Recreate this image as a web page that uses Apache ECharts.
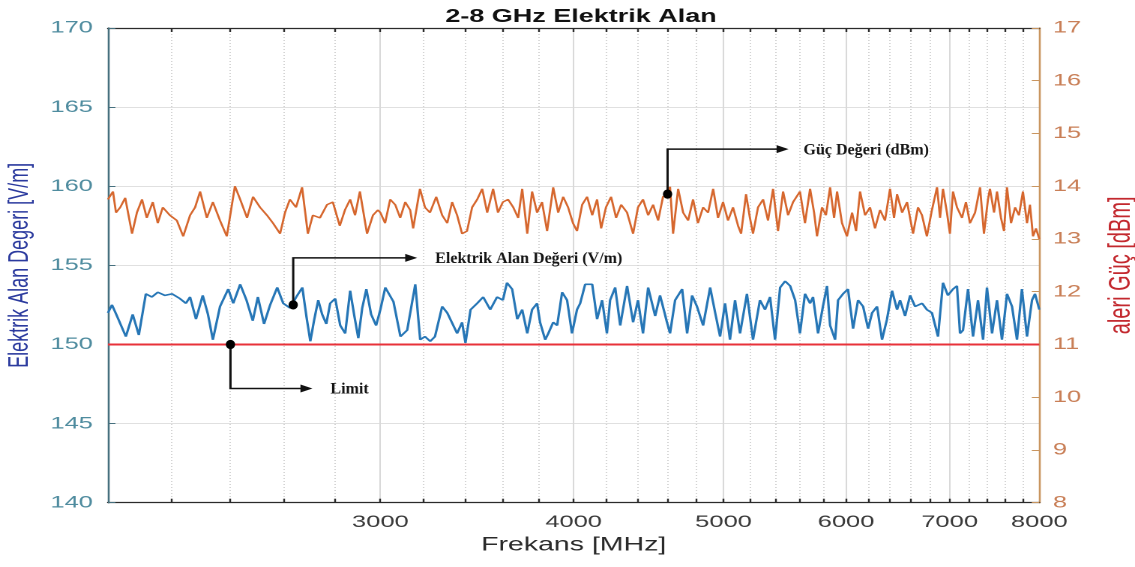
<!DOCTYPE html>
<html>
<head>
<meta charset="utf-8">
<title>2-8 GHz Elektrik Alan</title>
<script src="https://cdn.jsdelivr.net/npm/echarts@6.0.0/dist/echarts.min.js"></script>
<style>
  html, body { margin: 0; padding: 0; background: #fff; overflow: hidden; }
  #wrap { width: 1135px; height: 567px; overflow: hidden; position: relative; }
  /* the figure is drawn narrow and widened, like the exported MATLAB plot */
  #chart { width: 757px; height: 567px; transform-origin: 0 0; transform: scaleX(1.49934); }
</style>
</head>
<body>
<div id="wrap"><div id="chart"></div></div>
<script>
// ---- data -------------------------------------------------------------
const freqMin = 2000;
const freqMax = 8000;
const freqTickLabels = [3000, 4000, 5000, 6000, 7000, 8000];
const limitValue = 150;

// electric field strength (V/m), left axis
const fieldFreq = [
  2000, 2012, 2027, 2054, 2075, 2094, 2116, 2135, 2154, 2177, 2200, 2226, 2246, 2260, 2280, 2303,
  2321, 2338, 2363, 2392, 2410, 2435, 2458, 2481, 2500, 2523, 2546, 2573, 2596, 2623, 2647, 2671,
  2687, 2703, 2719, 2735, 2751, 2768, 2784, 2805, 2826, 2847, 2868, 2886, 2903, 2920, 2938, 2959,
  2981, 3000, 3022, 3059, 3091, 3122, 3160, 3183, 3206, 3231, 3254, 3289, 3314, 3363, 3388, 3405,
  3431, 3465, 3496, 3533, 3569, 3600, 3622, 3650, 3678, 3705, 3733, 3760, 3788, 3805, 3834, 3852,
  3880, 3903, 3932, 3961, 3990, 4020, 4039, 4069, 4112, 4142, 4173, 4203, 4223, 4255, 4287, 4331,
  4370, 4402, 4435, 4469, 4516, 4549, 4596, 4617, 4652, 4701, 4736, 4771, 4806, 4850, 4901, 4938,
  4974, 5011, 5048, 5086, 5124, 5177, 5224, 5278, 5318, 5358, 5398, 5439, 5480, 5521, 5562, 5602,
  5644, 5687, 5712, 5755, 5797, 5832, 5859, 5903, 5929, 5973, 6017, 6063, 6108, 6154, 6200, 6237,
  6283, 6330, 6377, 6425, 6473, 6502, 6551, 6600, 6649, 6719, 6767, 6818, 6880, 6931, 6982, 7035,
  7077, 7109, 7141, 7194, 7248, 7302, 7357, 7400, 7456, 7511, 7567, 7624, 7681, 7738, 7795, 7854,
  7913, 7948, 8000
];
const fieldValue = [
  152.0, 152.5, 151.8, 150.5, 151.9, 150.6, 153.2, 153.0, 153.3, 153.1, 153.2, 152.9, 152.6, 153.0, 151.6, 153.1,
  151.9, 150.3, 152.4, 153.5, 152.6, 153.8, 152.8, 151.5, 153.0, 151.3, 152.5, 153.6, 152.6, 152.3, 153.0, 153.6,
  151.8, 150.2, 151.6, 152.8, 151.9, 151.3, 152.6, 152.9, 151.2, 150.7, 153.4, 151.8, 150.4, 152.3, 153.5, 151.9,
  151.2, 152.2, 153.6, 152.7, 150.5, 150.9, 153.8, 150.3, 150.5, 150.2, 150.5, 152.4, 152.0, 150.7, 151.4, 150.1,
  152.2, 152.6, 153.0, 152.2, 153.0, 152.8, 153.9, 153.5, 151.6, 152.2, 150.7, 152.2, 152.6, 151.4, 150.3, 150.7,
  151.4, 151.2, 153.3, 152.8, 150.7, 152.2, 152.6, 153.8, 153.8, 151.6, 152.8, 150.7, 152.8, 153.6, 151.2, 153.7,
  151.4, 152.8, 150.7, 153.6, 151.8, 153.1, 151.4, 150.7, 152.8, 153.5, 150.7, 153.1, 152.4, 151.2, 153.6, 152.0,
  150.5, 152.6, 150.3, 152.8, 150.7, 153.2, 150.3, 152.8, 152.2, 153.0, 150.3, 153.6, 154.0, 153.7, 152.8, 150.7,
  153.2, 152.6, 153.0, 150.7, 152.4, 153.7, 151.2, 150.3, 152.8, 153.2, 153.5, 151.0, 152.8, 152.4, 151.0, 152.0,
  152.4, 150.3, 151.6, 153.4, 152.2, 152.8, 151.8, 153.1, 152.4, 152.6, 152.2, 152.0, 150.5, 153.9, 153.1, 153.5,
  153.7, 150.7, 150.9, 153.5, 150.5, 152.8, 150.3, 153.6, 150.7, 152.8, 150.3, 153.2, 152.4, 150.3, 153.5, 150.5,
  152.8, 153.2, 152.2
];

// forward power (dBm), right axis
const powerFreq = [
  2000, 2015, 2024, 2037, 2052, 2073, 2088, 2104, 2119, 2138, 2154, 2170, 2193, 2216, 2237, 2260,
  2277, 2294, 2317, 2338, 2363, 2387, 2416, 2435, 2460, 2482, 2508, 2534, 2557, 2584, 2603, 2622,
  2646, 2670, 2693, 2713, 2742, 2771, 2795, 2824, 2846, 2868, 2889, 2910, 2941, 2967, 2989, 3000,
  3021, 3044, 3067, 3090, 3113, 3136, 3150, 3182, 3206, 3230, 3260, 3289, 3314, 3338, 3363, 3388,
  3413, 3439, 3465, 3491, 3517, 3548, 3574, 3600, 3628, 3656, 3683, 3705, 3733, 3760, 3788, 3816,
  3845, 3880, 3909, 3938, 3967, 3996, 4020, 4051, 4081, 4112, 4142, 4167, 4197, 4229, 4261, 4293,
  4331, 4370, 4402, 4435, 4469, 4502, 4536, 4569, 4596, 4617, 4638, 4673, 4708, 4743, 4778, 4813,
  4850, 4886, 4923, 4959, 4996, 5033, 5071, 5109, 5132, 5170, 5200, 5224, 5263, 5303, 5342, 5382,
  5422, 5463, 5504, 5545, 5602, 5644, 5687, 5721, 5746, 5789, 5823, 5859, 5894, 5920, 5964, 6008,
  6054, 6090, 6126, 6172, 6218, 6264, 6311, 6358, 6406, 6444, 6473, 6522, 6570, 6629, 6678, 6718,
  6767, 6818, 6870, 6901, 6931, 6972, 7003, 7035, 7077, 7130, 7172, 7215, 7270, 7324, 7367, 7411,
  7433, 7478, 7511, 7556, 7590, 7624, 7670, 7716, 7761, 7807, 7854, 7889, 7925, 7960, 8000
];
const powerValue = [
  13.75, 13.90, 13.50, 13.60, 13.78, 13.10, 13.50, 13.75, 13.40, 13.70, 13.30, 13.60, 13.45, 13.35, 13.05, 13.45,
  13.60, 13.90, 13.40, 13.70, 13.35, 13.05, 14.00, 13.75, 13.40, 13.80, 13.60, 13.45, 13.30, 13.10, 13.50, 13.75,
  13.60, 13.98, 13.10, 13.45, 13.40, 13.65, 13.70, 13.25, 13.55, 13.75, 13.45, 13.90, 13.10, 13.45, 13.55, 13.50,
  13.30, 13.75, 13.65, 13.40, 13.70, 13.55, 13.20, 13.95, 13.60, 13.50, 13.80, 13.45, 13.30, 13.70, 13.45, 13.10,
  13.15, 13.60, 13.75, 13.95, 13.50, 13.95, 13.50, 13.70, 13.75, 13.60, 13.40, 13.95, 13.10, 13.90, 13.50, 13.70,
  13.15, 13.98, 13.50, 13.80, 13.60, 13.30, 13.15, 13.65, 13.80, 13.45, 13.75, 13.20, 13.60, 13.80, 13.40, 13.65,
  13.50, 13.10, 13.60, 13.75, 13.45, 13.65, 13.35, 13.80, 13.85, 13.99, 13.10, 13.95, 13.50, 13.35, 13.75, 13.30,
  13.60, 13.50, 13.95, 13.40, 13.70, 13.35, 13.60, 13.25, 13.10, 13.85, 13.40, 13.10, 13.60, 13.75, 13.35, 13.95,
  13.15, 13.90, 13.45, 13.70, 13.90, 13.30, 13.95, 13.50, 13.05, 13.60, 13.45, 13.98, 13.40, 13.90, 13.30, 13.05,
  13.50, 13.15, 13.90, 13.45, 13.60, 13.20, 13.55, 13.35, 13.95, 13.40, 13.85, 13.50, 13.70, 13.10, 13.60, 13.45,
  13.05, 13.55, 13.98, 13.40, 13.95, 13.50, 13.10, 13.90, 13.60, 13.40, 13.70, 13.30, 13.50, 13.98, 13.10, 13.75,
  13.95, 13.50, 13.90, 13.40, 13.15, 13.98, 13.30, 13.60, 13.45, 13.90, 13.30, 13.65, 13.05, 13.20, 13.00
];

// ---- layout helpers ---------------------------------------------------
const STRETCH = 1135 / 757;          // horizontal widening applied by CSS
const lg = v => Math.log10(v);
const xMin = lg(freqMin);
const xMax = lg(freqMax);

// grid ticks every 200 MHz, solid lines on the thousands
const gridFreqs = [];
for (let f = freqMin + 200; f < freqMax; f += 200) gridFreqs.push(f);
const majorGrid = gridFreqs.filter(f => f % 1000 === 0);
const minorGrid = gridFreqs.filter(f => f % 1000 !== 0);

const SANS = '"Liberation Sans", Arial, sans-serif';
const SERIF = '"Liberation Serif", "Times New Roman", serif';

const baseX = {
  type: 'value', min: xMin, max: xMax, gridIndex: 0,
  axisLabel: { show: false }, axisLine: { show: false },
  axisTick: { show: false }, splitLine: { show: false }
};

const chart = echarts.init(document.getElementById('chart'), null, { renderer: 'canvas', devicePixelRatio: 2 });

chart.setOption({
  animation: false,
  backgroundColor: '#ffffff',
  title: {
    text: '2-8 GHz Elektrik Alan',
    left: 382.5, top: 3, textAlign: 'center',
    textStyle: { fontFamily: SANS, fontWeight: 'bold', fontSize: 18, color: '#111' }
  },
  grid: { left: 72, right: 63.8, top: 28, bottom: 64.3, containLabel: false, outerBoundsMode: 'none' },
  xAxis: [
    Object.assign({}, baseX, {
      position: 'bottom',
      name: 'Frekans [MHz]', nameLocation: 'middle', nameGap: 33,
      nameTextStyle: { fontFamily: SANS, fontSize: 19, color: '#2a2a2a' },
      axisLine: { show: true, onZero: false, lineStyle: { color: '#2b2b2b', width: 1.3 } },
      axisTick: { show: true, inside: true, length: 4, customValues: gridFreqs.map(lg),
                  lineStyle: { color: '#2b2b2b', width: 1.2 } },
      axisLabel: { show: true, customValues: freqTickLabels.map(lg), margin: 11,
                   formatter: v => String(Math.round(Math.pow(10, v))),
                   fontFamily: SANS, fontSize: 17, color: '#3a3a3a' }
    }),
    Object.assign({}, baseX, {
      position: 'top',
      axisLine: { show: true, onZero: false, lineStyle: { color: '#2b2b2b', width: 1.3 } },
      axisTick: { show: true, inside: true, length: 4, customValues: gridFreqs.map(lg),
                  lineStyle: { color: '#2b2b2b', width: 1.2 } }
    }),
    Object.assign({}, baseX, {
      position: 'bottom',
      axisTick: { show: false, customValues: majorGrid.map(lg) },
      splitLine: { show: true, lineStyle: { color: '#d9d9d9', width: 1 } }
    }),
    Object.assign({}, baseX, {
      position: 'bottom',
      axisTick: { show: false, customValues: minorGrid.map(lg) },
      splitLine: { show: true, lineStyle: { color: '#d4d4d4', width: 1, type: [1, 2] } }
    })
  ],
  yAxis: [
    {
      type: 'value', position: 'left', min: 140, max: 170, interval: 5,
      name: 'Elektrik Alan Degeri [V/m]', nameLocation: 'middle', nameGap: 48,
      nameTextStyle: { fontFamily: SANS, fontSize: 18, color: '#2b3a9e' },
      axisLine: { show: true, lineStyle: { color: '#46707e', width: 1.3 } },
      axisTick: { show: true, inside: true, length: 5, lineStyle: { color: '#46707e' } },
      axisLabel: { margin: 10, fontFamily: SANS, fontSize: 17, color: '#4f8c9f' },
      splitLine: { show: true, lineStyle: { color: '#e0e0e0', width: 1 } }
    },
    {
      type: 'value', position: 'right', min: 8, max: 17, interval: 1,
      name: 'aleri Güç [dBm]', nameLocation: 'middle', nameGap: 45,
      nameTextStyle: { fontFamily: SANS, fontSize: 20, color: '#c3282e' },
      axisLine: { show: true, lineStyle: { color: '#c9955f', width: 1.3 } },
      axisTick: { show: true, inside: true, length: 5, lineStyle: { color: '#c9955f' } },
      axisLabel: { margin: 9, fontFamily: SANS, fontSize: 17, color: '#c97f57' },
      splitLine: { show: false }
    }
  ],
  series: [
    {
      name: 'Elektrik Alan Değeri (V/m)', type: 'line', xAxisIndex: 0, yAxisIndex: 0,
      data: fieldFreq.map((f, i) => [lg(f), fieldValue[i]]),
      symbol: 'none', lineStyle: { color: '#2676b6', width: 1.6 }, z: 3
    },
    {
      name: 'Güç Değeri (dBm)', type: 'line', xAxisIndex: 0, yAxisIndex: 1,
      data: powerFreq.map((f, i) => [lg(f), powerValue[i]]),
      symbol: 'none', lineStyle: { color: '#d6672e', width: 1.4 }, z: 3
    },
    {
      name: 'Limit', type: 'line', xAxisIndex: 0, yAxisIndex: 0,
      data: [[xMin, limitValue], [xMax, limitValue]],
      symbol: 'none', lineStyle: { color: '#e8323a', width: 2 }, z: 4
    }
  ]
});

// ---- call-out arrows --------------------------------------------------
// anchor in data units; offsets in screen pixels of the widened figure
const callouts = [
  { text: 'Güç Değeri (dBm)', seriesIndex: 1, at: [4600, 13.85], dy: -45, tip: 121, textGap: 15 },
  { text: 'Elektrik Alan Değeri (V/m)', seriesIndex: 0, at: [2635, 152.5], dy: -47, tip: 124, textGap: 18 },
  { text: 'Limit', seriesIndex: 2, at: [2400, limitValue], dy: 44, tip: 82, textGap: 18 }
];

const elements = [];
callouts.forEach(c => {
  const p = chart.convertToPixel({ seriesIndex: c.seriesIndex }, [lg(c.at[0]), c.at[1]]);
  const x0 = p[0], y0 = p[1], y1 = y0 + c.dy;
  const head = 12 / STRETCH;
  const tipX = x0 + c.tip / STRETCH;
  elements.push({
    type: 'polyline', z: 20,
    shape: { points: [[x0, y0], [x0, y1], [tipX - head + 1, y1]] },
    style: { stroke: '#111', lineWidth: 1.5, fill: null }
  });
  elements.push({
    type: 'polygon', z: 20,
    shape: { points: [[tipX - head, y1 - 4], [tipX, y1], [tipX - head, y1 + 4]] },
    style: { fill: '#111' }
  });
  elements.push({
    type: 'ellipse', z: 21,
    shape: { cx: x0, cy: y0, rx: 4.6 / STRETCH, ry: 4.6 },
    style: { fill: '#000' }
  });
  elements.push({
    type: 'text', z: 21,
    x: tipX + c.textGap / STRETCH, y: y1 + 1, scaleX: 1 / STRETCH,
    style: {
      text: c.text, font: 'bold 16px ' + SERIF, fill: '#151515',
      textAlign: 'left', align: 'left', textVerticalAlign: 'middle', verticalAlign: 'middle'
    }
  });
});
chart.setOption({ graphic: { elements: elements } });
</script>
</body>
</html>
